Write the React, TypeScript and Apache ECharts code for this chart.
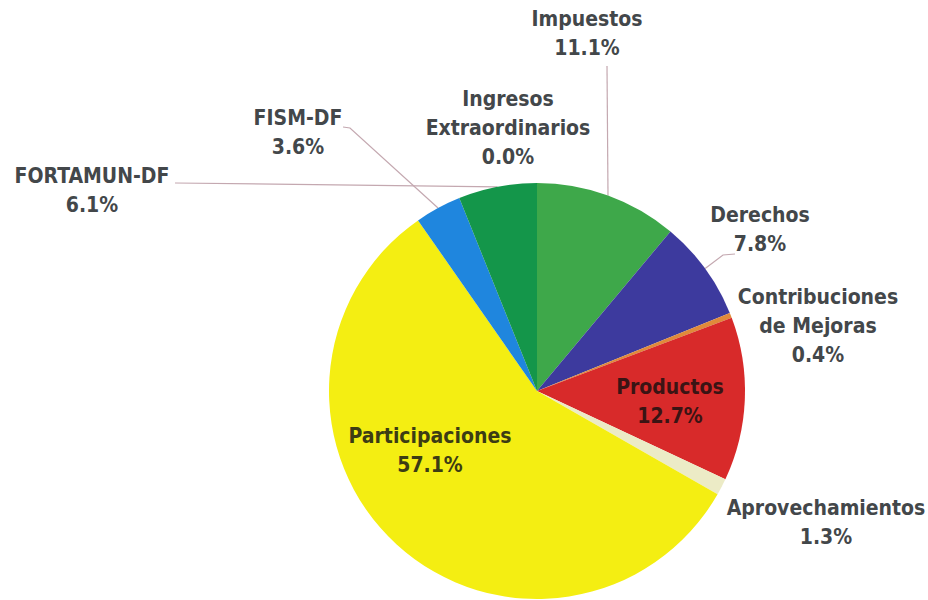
import React, { useEffect, useRef } from "react";
import * as echarts from "echarts";

const names = [
  "Impuestos",
  "Derechos",
  "Contribuciones\nde Mejoras",
  "Productos",
  "Aprovechamientos",
  "Participaciones",
  "FISM-DF",
  "FORTAMUN-DF",
  "Ingresos\nExtraordinarios",
];
const values = [11.1, 7.8, 0.4, 12.7, 1.3, 57.1, 3.6, 6.1, 0.0];
const colors = [
  "#3ea84a",
  "#3d3a9e",
  "#e08a3a",
  "#d82a2a",
  "#ecebc6",
  "#f4ee12",
  "#1f86de",
  "#14964a",
  "#888888",
];

// label anchor (center of text block) and label line bend points, by index
const labelPos: Array<{ x: number; y: number; line?: number[][]; color?: string }> = [
  { x: 587, y: 33, line: [[607, 66]] },
  { x: 760, y: 229, line: [[723, 255], [735, 254]] },
  { x: 818, y: 326 },
  { x: 670, y: 401, color: "#3a1414" },
  { x: 826, y: 522 },
  { x: 430, y: 450, color: "#3c3c14" },
  { x: 298, y: 132, line: [[350, 128], [343, 127]] },
  { x: 92, y: 190, line: [[175, 183]] },
  { x: 508, y: 128 },
];

export default function App() {
  const ref = useRef<HTMLDivElement>(null);
  useEffect(() => {
    if (!ref.current) return;
    const chart = echarts.init(ref.current, null, { renderer: "svg" });
    const data = names.map((n, i) => ({
      name: n,
      value: values[i],
      itemStyle: { color: colors[i] },
      label: {
        position: labelPos[i].line || i === 2 || i === 4 || i === 8 ? "outside" : "inside",
        color: labelPos[i].color || "#43474a",
      },
      labelLine: { show: !!labelPos[i].line },
    }));
    chart.setOption({
      animation: false,
      backgroundColor: "#ffffff",
      series: [
        {
          type: "pie",
          center: [537, 391],
          radius: 208,
          startAngle: 90,
          clockwise: true,
          data,
          itemStyle: { borderWidth: 0 },
          label: {
            show: true,
            formatter: (p: any) => `${p.name}\n${p.value.toFixed(1)}%`,
            fontFamily: "'DejaVu Sans Condensed', 'Liberation Sans Narrow', sans-serif",
            fontWeight: "bold",
            fontSize: 21,
            lineHeight: 29,
            align: "center",
            overflow: "none",
          },
          labelLine: {
            lineStyle: { color: "#c4a8b0", width: 1.2 },
            length: 10,
            length2: 10,
          },
          labelLayout: (params: any) => {
            const p = labelPos[params.dataIndex];
            const out: any = { x: p.x, y: p.y, align: "center", verticalAlign: "middle" };
            if (p.line && params.labelLinePoints) {
              out.labelLinePoints = [params.labelLinePoints[0], ...p.line];
            }
            return out;
          },
          emphasis: { disabled: true },
        },
      ],
    });
    return () => chart.dispose();
  }, []);
  return (
    <div
      ref={ref}
      style={{ position: "fixed", left: 0, top: 0, width: 928, height: 600 }}
    />
  );
}
